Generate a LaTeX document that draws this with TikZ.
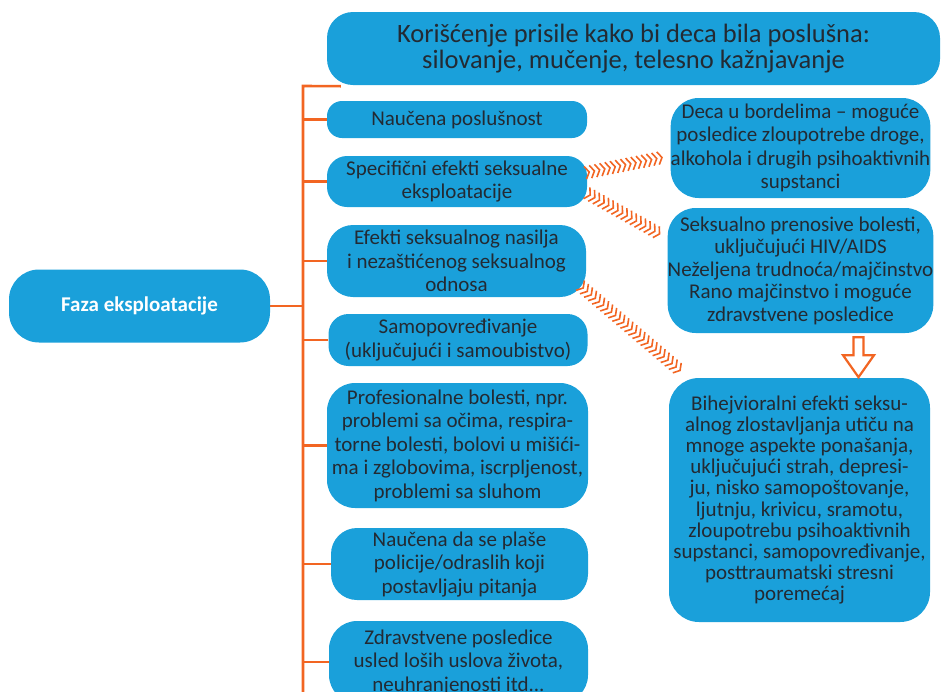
\documentclass[tikz,border=0pt]{standalone}
\usepackage{fontspec}
\setmainfont{Carlito}
\usetikzlibrary{calc,decorations.markings,backgrounds}
\definecolor{boxblue}{HTML}{1AA0DA}
\definecolor{linkorange}{HTML}{F26522}
\definecolor{inktext}{HTML}{232A33}

\begin{document}
\begin{tikzpicture}[x=1pt,y=-1pt,
  box/.style={fill=boxblue, rounded corners=#1, text=inktext, align=center,
    inner sep=0pt, font=\fontsize{21}{23.5}\selectfont},
  box/.default=17pt,
  trunk/.style={draw=linkorange, line width=2.6pt},
  chev/.style={decorate, decoration={markings,
    mark=between positions 0 and 1 step 5.3pt with
      {\draw[linkorange, line width=1.6pt] (-4pt,6.5pt) -- (0pt,0pt) -- (-4pt,-6.5pt);}}},
  hollow/.style={draw=linkorange, line width=2.2pt, fill=white, line join=miter}]

\useasboundingbox (0,0) rectangle (941,691);
\clip (0,0) rectangle (941,691);

% heading and root
\node[box=26pt, minimum width=613pt, minimum height=73pt,
      font=\fontsize{26.5}{25.7}\selectfont] (top) at (633.5,48.5)
  {Korišćenje prisile kako bi deca bila poslušna:\\silovanje, mučenje, telesno kažnjavanje};
\node[box=30pt, minimum width=261pt, minimum height=73pt, text=white,
      font=\bfseries\fontsize{21}{25}\selectfont] (faza) at (139.5,306) {Faza eksploatacije};

% left column
\node[box=15pt, minimum width=260pt, minimum height=37pt] (nauc) at (457,119.5) {Naučena poslušnost};
\node[box=20pt, minimum width=260pt, minimum height=51pt] (spec) at (457,181.5)
  {Specifični efekti seksualne\\eksploatacije};
\node[box=26pt, minimum width=259pt, minimum height=72pt] (efek) at (456.5,261)
  {Efekti seksualnog nasilja\\i nezaštićenog seksualnog\\odnosa};
\node[box=20pt, minimum width=259pt, minimum height=52pt] (samo) at (458,340)
  {Samopovređivanje\\(uključujući i samoubistvo)};
\node[box=28pt, minimum width=261pt, minimum height=125pt] (prof) at (457.5,445.5)
  {Profesionalne bolesti, npr.\\problemi sa očima, respira-\\torne bolesti, bolovi u mišići-\\ma i zglobovima, iscrpljenost,\\problemi sa sluhom};
\node[box=26pt, minimum width=257pt, minimum height=72pt] (plas) at (459.5,564)
  {Naučena da se plaše\\policije/odraslih koji\\postavljaju pitanja};
\node[box=28pt, minimum width=259pt, minimum height=82pt] (zdra) at (458.5,662)
  {Zdravstvene posledice\\usled loših uslova života,\\neuhranjenosti itd...};

% right column
\node[box=28pt, minimum width=259pt, minimum height=100pt] (deca) at (800.5,148)
  {Deca u bordelima – moguće\\posledice zloupotrebe droge,\\alkohola i drugih psihoaktivnih\\supstanci};
\node[box=28pt, minimum width=259pt, minimum height=125pt,
      font=\fontsize{21}{22.5}\selectfont] (sexu) at (800.5,270.5)
  {Seksualno prenosive bolesti,\\uključujući HIV/AIDS\\Neželjena trudnoća/majčinstvo\\Rano majčinstvo i moguće\\zdravstvene posledice};
\node[box=30pt, minimum width=261pt, minimum height=244pt,
      font=\fontsize{21}{21.2}\selectfont] (bihe) at (799.5,500)
  {Bihejvioralni efekti seksu-\\alnog zlostavljanja utiču na\\mnoge aspekte ponašanja,\\uključujući strah, depresi-\\ju, nisko samopoštovanje,\\ljutnju, krivicu, sramotu,\\zloupotrebu psihoaktivnih\\supstanci, samopovređivanje,\\posttraumatski stresni\\poremećaj};

% orange tree behind the boxes
\begin{pgfonlayer}{background}
  \coordinate (tr) at (303,86);
  \coordinate (tb) at (303,700);
  \draw[trunk] ([xshift=14pt,yshift=-1pt]top.south west) -- (tr) -- (tb);
  \draw[trunk] (faza.east) -- (faza.east -| tr);
  \foreach \n in {nauc,spec,efek,samo,prof,plas,zdra}
    \draw[trunk] (\n.west) -- (\n.west -| tr);
\end{pgfonlayer}

% chevron links
\path[chev] ([xshift=2pt,yshift=9.5pt]spec.east) -- ([xshift=-6pt,yshift=-9pt]deca.west);
\path[chev] ([xshift=3pt,yshift=-13.5pt]spec.east) -- ([xshift=-6pt,yshift=35.5pt]sexu.west);
\path[chev] ([xshift=-3pt,yshift=-27pt]efek.east) -- ([xshift=14pt,yshift=5pt]bihe.north west);

% hollow arrow between the right boxes
\coordinate (ha) at ([xshift=58pt,yshift=-4pt]sexu.south);
\draw[hollow] ($(ha)+(-5,0)$) -- ++(10,0) -- ++(0,18) -- ++(10.5,0)
  -- ++(-15.5,22) -- ++(-15.5,-22) -- ++(10.5,0) -- cycle;
\end{tikzpicture}
\end{document}
